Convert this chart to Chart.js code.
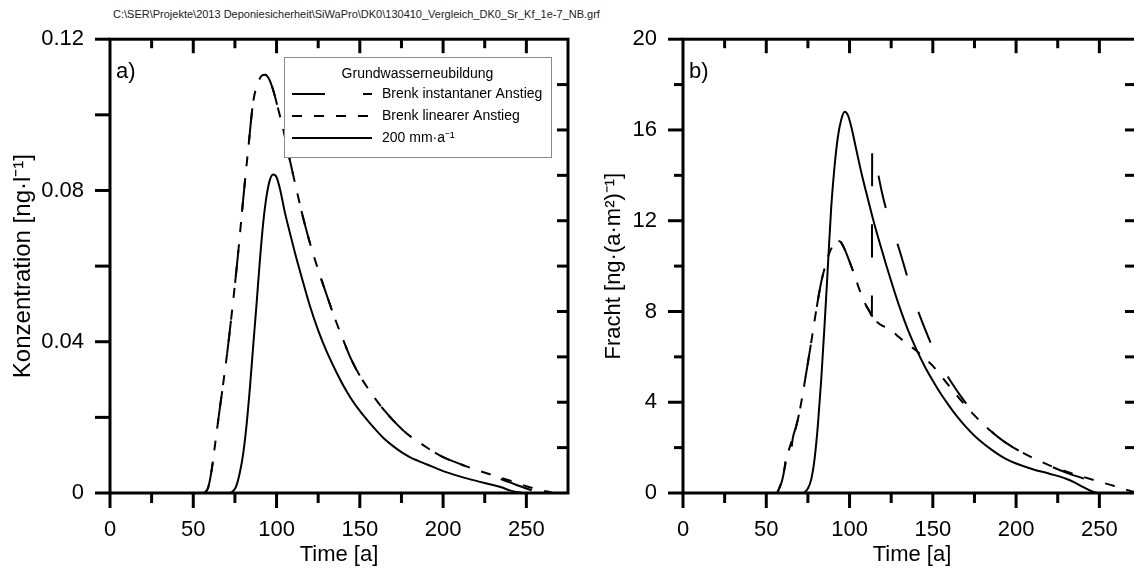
<!DOCTYPE html>
<html>
<head>
<meta charset="utf-8">
<script src="https://cdn.jsdelivr.net/npm/chart.js@4.4.1/dist/chart.umd.min.js"></script>
<style>
  html, body { margin: 0; padding: 0; background: #fff; overflow: hidden; }
  #wrap { position: relative; width: 1134px; height: 569px; overflow: hidden; }
  #fileTitle { position: absolute; left: 113px; top: 8px; font: 11px "Liberation Sans", Arial, sans-serif; color: #222; white-space: nowrap; }
  #cA { position: absolute; left: 0; top: 0; }
  #cB { position: absolute; left: 589px; top: 0; }
</style>
</head>
<body>
<div id="wrap">
  <div id="fileTitle">C:\SER\Projekte\2013 Deponiesicherheit\SiWaPro\DK0\130410_Vergleich_DK0_Sr_Kf_1e-7_NB.grf</div>
  <canvas id="cA" width="600" height="569"></canvas>
  <canvas id="cB" width="571" height="569"></canvas>
</div>
<script>
// ---- data (time in a) ----
const seriesLabels = ["Brenk instantaner Anstieg", "Brenk linearer Anstieg", "200 mm\u00b7a\u207b\u00b9"];

// a) Konzentration [ng/l]
const tA_lin = [57, 59, 61, 63, 65.5, 68, 70.5, 73.5, 76.8, 80, 83, 86, 88.5, 91, 93, 95.5, 98, 101, 104, 108, 112, 116, 120, 125, 130, 135, 140, 145, 150, 155, 160, 165, 170, 175, 180, 185, 190, 195, 200, 210, 220, 230, 240, 250, 258, 265];
const cA_lin = [0, 0.0015, 0.006, 0.0125, 0.021, 0.029, 0.0375, 0.049, 0.0628, 0.0778, 0.091, 0.1035, 0.108, 0.1103, 0.1106, 0.1095, 0.1065, 0.1015, 0.0962, 0.088, 0.0802, 0.0727, 0.0662, 0.059, 0.0525, 0.0462, 0.0405, 0.0352, 0.031, 0.0276, 0.0245, 0.0217, 0.0192, 0.017, 0.0151, 0.0136, 0.0121, 0.0107, 0.0095, 0.0077, 0.0061, 0.0047, 0.0033, 0.0018, 0.0008, 0.0002];
const tA_inst = [57, 59, 61, 63, 65.5, 68, 70.5, 73.5, 76.8, 80, 83, 86, 88.5, 91, 93, 95.5, 98, 101, 104, 108, 112, 116, 120, 125, 130, 135, 140, 145, 150, 155, 160, 165, 170, 175, 180, 185, 190, 195, 200, 210, 220, 230, 240, 250, 258];
const cA_inst = [0, 0.0015, 0.006, 0.0125, 0.021, 0.029, 0.0375, 0.049, 0.0628, 0.0778, 0.091, 0.1035, 0.108, 0.1103, 0.1106, 0.1095, 0.1065, 0.1015, 0.0962, 0.088, 0.0802, 0.0727, 0.0662, 0.059, 0.0525, 0.0462, 0.0405, 0.0352, 0.031, 0.0276, 0.0245, 0.0217, 0.0192, 0.017, 0.0151, 0.0136, 0.0121, 0.0107, 0.0095, 0.0077, 0.006, 0.0044, 0.0028, 0.0012, 0];
const tA_200 = [72.5, 75.5, 78, 80, 82, 84, 86, 88, 90, 92, 94, 96, 98, 100, 102, 105, 108, 111, 115, 120, 125, 130, 135, 140, 145, 150, 155, 160, 165, 170, 175, 180, 185, 190, 195, 200, 210, 220, 230, 235, 240, 245, 248];
const cA_200 = [0, 0.0015, 0.0055, 0.0105, 0.018, 0.0278, 0.039, 0.05, 0.0615, 0.0715, 0.0785, 0.0828, 0.0842, 0.0835, 0.0805, 0.0742, 0.0688, 0.0636, 0.0572, 0.0495, 0.043, 0.0375, 0.0328, 0.0285, 0.0248, 0.0217, 0.019, 0.0165, 0.0142, 0.0124, 0.0108, 0.0095, 0.0085, 0.0076, 0.0067, 0.0058, 0.0044, 0.0032, 0.0021, 0.0015, 0.0007, 0.0002, 0];

// b) Fracht [ng/(a m2)]
const tB_inst = [56.5, 58, 59.5, 61, 62.5, 64, 66, 68, 70, 72, 74, 77, 79, 81, 83, 85, 88, 91, 94, 97, 100, 103, 106, 109, 112, 113.4, 113.6, 116, 119, 122, 126, 130, 134, 138, 142, 146, 150, 154, 158, 162, 166, 171, 176, 180, 185, 190, 195, 200, 210, 220, 230, 240, 250, 255, 258];
const fB_inst = [0, 0.25, 0.55, 1.1, 1.95, 1.45, 2.45, 2.95, 3.6, 4.4, 5.3, 6.65, 7.6, 8.5, 9.3, 9.9, 10.6, 11.0, 11.1, 10.75, 10.2, 9.6, 8.95, 8.4, 8.0, 7.8, 15.3, 14.5, 13.4, 12.5, 11.6, 10.7, 9.7, 8.7, 7.85, 7.1, 6.4, 5.8, 5.25, 4.78, 4.35, 3.85, 3.4, 3.07, 2.72, 2.42, 2.16, 1.93, 1.55, 1.2, 0.9, 0.65, 0.4, 0.2, 0];
const tB_lin = [56.5, 58, 59.5, 61, 63, 66, 68, 70, 72, 74, 77, 79, 81, 83, 85, 88, 91, 94, 97, 100, 103, 106, 109, 112, 115, 118, 122, 126, 130, 135, 140, 145, 150, 155, 160, 165, 170, 175, 180, 185, 190, 195, 200, 210, 220, 230, 240, 250, 258, 265, 272, 276];
const fB_lin = [0, 0.25, 0.55, 1.1, 1.75, 2.45, 2.95, 3.6, 4.4, 5.3, 6.65, 7.6, 8.5, 9.3, 9.9, 10.6, 11.0, 11.1, 10.75, 10.2, 9.6, 8.95, 8.4, 8.0, 7.65, 7.45, 7.28, 7.1, 6.85, 6.55, 6.28, 5.95, 5.6, 5.15, 4.7, 4.25, 3.82, 3.42, 3.05, 2.72, 2.42, 2.16, 1.93, 1.55, 1.22, 0.95, 0.72, 0.5, 0.33, 0.17, 0.03, 0];
const tB_200 = [72.5, 75, 77, 79, 81, 83, 85, 87, 89, 91, 93, 95, 97, 99, 101, 104, 107, 110, 114, 118, 122, 126, 130, 135, 140, 145, 150, 155, 160, 165, 170, 175, 180, 185, 190, 195, 200, 210, 220, 230, 235, 240, 245, 249];
const fB_200 = [0, 0.2, 0.6, 1.5, 3.0, 5.0, 7.4, 10.0, 12.6, 14.4, 15.7, 16.45, 16.8, 16.65, 16.15, 15.15, 14.15, 13.25, 12.1, 11.05, 10.05, 9.1, 8.2, 7.2, 6.35, 5.6, 4.95, 4.35, 3.82, 3.33, 2.9, 2.52, 2.2, 1.92, 1.67, 1.46, 1.3, 1.05, 0.85, 0.63, 0.47, 0.27, 0.09, 0];

// ---- axes ----
const xMax = 275;
const xLabelValues = [0, 50, 100, 150, 200, 250];
const xTickValues = [0, 25, 50, 75, 100, 125, 150, 175, 200, 225, 250];
const yLabelValuesA = [0, 0.04, 0.08, 0.12];
const yLabelTextA = ["0", "0.04", "0.08", "0.12"];
const yTickValuesA = [0, 0.02, 0.04, 0.06, 0.08, 0.1, 0.12];
const yRightTicksA = [0.012, 0.024, 0.036, 0.048, 0.06, 0.072, 0.084, 0.096, 0.108];
const yLabelValuesB = [0, 4, 8, 12, 16, 20];
const yTickValuesB = [0, 2, 4, 6, 8, 10, 12, 14, 16, 18, 20];
const yRightTicksB = [2, 4, 6, 8, 10, 12, 14, 16, 18];

const FONT = '"Liberation Sans", Arial, sans-serif';
const dashInst = [33, 38];
const dashLin = [10, 12];

function pts(xs, ys) {
  return xs.map((v, i) => ({ x: v, y: ys[i] }));
}

function line(ctx, x1, y1, x2, y2) {
  ctx.beginPath();
  ctx.moveTo(x1, y1);
  ctx.lineTo(x2, y2);
  ctx.stroke();
}

// frame with Grapher-style ticks (outside bottom/left, inside top/right)
const framePlugin = {
  id: 'frame',
  afterDatasetsDraw(chart, args, o) {
    const { ctx, chartArea: a, scales: { x, y } } = chart;
    ctx.save();
    ctx.strokeStyle = '#000';
    ctx.lineWidth = 3;
    ctx.setLineDash([]);
    xTickValues.forEach(v => {
      const px = x.getPixelForValue(v);
      const major = xLabelValues.includes(v);
      line(ctx, px, a.bottom, px, a.bottom + (major ? 15 : 10));
      if (v > 0) line(ctx, px, a.top, px, a.top + (major ? 14 : 9));
    });
    o.yTicks.forEach(v => {
      const py = y.getPixelForValue(v);
      const major = o.yMajor.includes(v);
      line(ctx, a.left, py, a.left - (major ? 15 : o.minorLen), py);
    });
    o.yRight.forEach(v => {
      const py = y.getPixelForValue(v);
      line(ctx, a.right, py, a.right - o.rightLen, py);
    });
    ctx.strokeRect(a.left, a.top, a.right - a.left, a.bottom - a.top);
    ctx.restore();
  }
};

// panel letter and (for a) the legend box
const decoPlugin = {
  id: 'deco',
  afterDraw(chart, args, o) {
    const ctx = chart.ctx, a = chart.chartArea;
    ctx.save();
    ctx.fillStyle = '#000';
    ctx.font = '22px ' + FONT;
    ctx.textBaseline = 'alphabetic';
    ctx.fillText(o.letter, a.left + 6, a.top + 39);
    const L = o.legend;
    if (L) {
      ctx.fillStyle = '#fff';
      ctx.fillRect(L.x, L.y, L.w, L.h);
      ctx.strokeStyle = '#8a8a8a';
      ctx.lineWidth = 1;
      ctx.strokeRect(L.x + 0.5, L.y + 0.5, L.w, L.h);
      ctx.fillStyle = '#000';
      ctx.font = '14px ' + FONT;
      ctx.textAlign = 'center';
      ctx.textBaseline = 'middle';
      ctx.fillText(L.title, L.x + L.w / 2, L.y + 17);
      chart.data.datasets.forEach((ds, i) => {
        const yy = L.y + 37 + i * 22;
        ctx.strokeStyle = ds.borderColor;
        ctx.lineWidth = ds.borderWidth;
        ctx.setLineDash(ds.borderDash || []);
        line(ctx, L.x + 8, yy, L.x + 88, yy);
        ctx.setLineDash([]);
        ctx.textAlign = 'left';
        ctx.fillText(ds.label, L.x + 98, yy);
      });
    }
    ctx.restore();
  }
};

function makeDatasets(inst, lin, base) {
  const common = { borderColor: '#000', borderWidth: 2, pointRadius: 0, fill: false, cubicInterpolationMode: 'monotone' };
  return [
    Object.assign({ label: seriesLabels[0], data: inst, borderDash: dashInst }, common),
    Object.assign({ label: seriesLabels[1], data: lin, borderDash: dashLin }, common),
    Object.assign({ label: seriesLabels[2], data: base, borderDash: [] }, common)
  ];
}

function makeChart(el, cfg) {
  return new Chart(el, {
    type: 'line',
    data: { datasets: cfg.datasets },
    options: {
      responsive: false,
      animation: false,
      devicePixelRatio: 1,
      layout: { padding: { left: 0, top: 35, right: cfg.padRight, bottom: 0 } },
      plugins: {
        legend: { display: false },
        tooltip: { enabled: false },
        frame: { yTicks: cfg.yTicks, yMajor: cfg.yMajor, yRight: cfg.yRight, minorLen: cfg.minorLen, rightLen: cfg.rightLen },
        deco: { letter: cfg.letter, legend: cfg.legend }
      },
      scales: {
        x: {
          type: 'linear', min: 0, max: xMax,
          grid: { display: false, drawTicks: false },
          border: { display: false },
          afterBuildTicks: s => { s.ticks = xLabelValues.map(v => ({ value: v })); },
          afterFit: s => { s.height = 569 - 493; },
          ticks: { padding: 24, color: '#000', font: { family: FONT, size: 22 }, maxRotation: 0, autoSkip: false },
          title: { display: true, text: 'Time [a]', color: '#000', font: { family: FONT, size: 22 }, padding: { top: 0, bottom: 1 } }
        },
        y: {
          type: 'linear', min: 0, max: cfg.yMax,
          grid: { display: false, drawTicks: false },
          border: { display: false },
          afterBuildTicks: s => { s.ticks = cfg.yLabels.map(v => ({ value: v })); },
          afterFit: s => { s.width = cfg.yWidth; },
          ticks: { padding: 26, color: '#000', font: { family: FONT, size: 22 }, autoSkip: false, callback: (v, i) => cfg.yText[i] },
          title: { display: true, text: cfg.yTitle, color: '#000', font: { family: FONT, size: cfg.titleSize }, padding: { top: cfg.titlePad, bottom: 0 } }
        }
      }
    },
    plugins: [framePlugin, decoPlugin]
  });
}

makeChart(document.getElementById('cA'), {
  datasets: makeDatasets(pts(tA_inst, cA_inst), pts(tA_lin, cA_lin), pts(tA_200, cA_200)),
  padRight: 600 - 568, yWidth: 110, yMax: 0.12,
  yLabels: yLabelValuesA, yText: yLabelTextA,
  yTicks: yTickValuesA, yMajor: yTickValuesA, yRight: yRightTicksA, minorLen: 15, rightLen: 11,
  yTitle: 'Konzentration [ng\u00b7l\u207b\u00b9]', titleSize: 24, titlePad: 9,
  letter: 'a)',
  legend: { x: 284, y: 57, w: 267, h: 100, title: 'Grundwasserneubildung' }
});

makeChart(document.getElementById('cB'), {
  datasets: makeDatasets(pts(tB_inst, fB_inst), pts(tB_lin, fB_lin), pts(tB_200, fB_200)),
  padRight: 571 - (1141 - 589), yWidth: 683 - 589, yMax: 20,
  yLabels: yLabelValuesB, yText: yLabelValuesB.map(String),
  yTicks: yTickValuesB, yMajor: yLabelValuesB, yRight: yRightTicksB, minorLen: 9, rightLen: 16,
  yTitle: 'Fracht [ng\u00b7(a\u00b7m\u00b2)\u207b\u00b9]', titleSize: 22, titlePad: 12,
  letter: 'b)',
  legend: null
});
</script>
</body>
</html>
